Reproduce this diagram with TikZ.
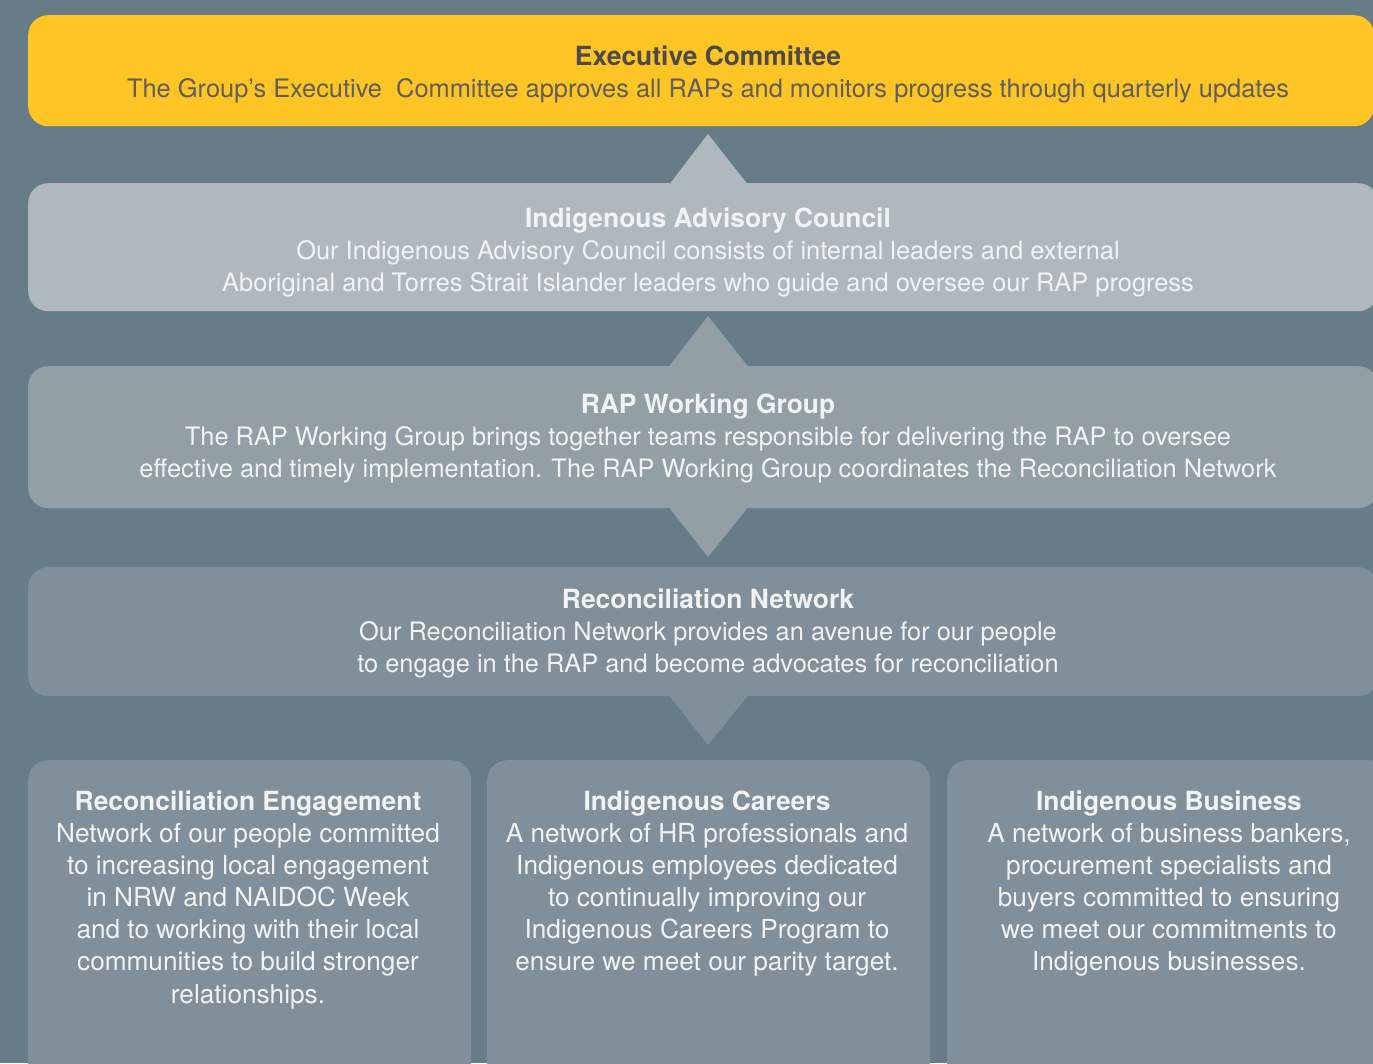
\documentclass[tikz,border=0pt]{standalone}
\usepackage{fontspec}
\setmainfont{TeX Gyre Heros}
\definecolor{bg}{HTML}{677C87}
\definecolor{ylw}{HTML}{FEC524}
\definecolor{adv}{HTML}{B0B8BF}
\definecolor{rap}{HTML}{939FA7}
\definecolor{rec}{HTML}{808F99}
\definecolor{exttl}{HTML}{4A4A4A}
\definecolor{extxt}{HTML}{5E5E5E}
\definecolor{wtxt}{HTML}{F1F3F4}
\newcommand\textlines[8]{% name, x, first baseline, spacing, title, lines, colour style, body style
  \node[ttl,#7,anchor=base] (#1-0) at (#2,#3) {#5};
  \foreach \l [count=\i] in {#6} {
    \node[#8,#7,anchor=base] (#1-\i) at (#2,{#3+#4*\i}) {\l};
  }
}
\begin{document}
\begin{tikzpicture}[x=1pt,y=-1pt,
  box/.style={rectangle,rounded corners=20pt,draw=none,inner sep=0pt,anchor=north west},
  ttl/.style={font=\fontsize{26.4}{32}\selectfont\bfseries,inner sep=0pt},
  bdy/.style={font=\fontsize{25.4}{32}\selectfont,inner sep=0pt},
  bdyb/.style={font=\fontsize{26.2}{32}\selectfont,inner sep=0pt},
  exc/.style={text=exttl},
  exb/.style={text=extxt},
  wt/.style={text=wtxt}]
\useasboundingbox (0,0) rectangle (1373,1063);
\clip (0,0) rectangle (1373,1063);
\fill[bg] (0,0) rectangle (1373,1063);
% boxes
\node[box,fill=ylw,minimum width=1346pt,minimum height=111pt] (exec) at (28,15) {};
\node[box,fill=adv,minimum width=1350pt,minimum height=128pt] (advisory) at (28,183) {};
\node[box,fill=rap,minimum width=1350pt,minimum height=142pt] (rapwg) at (28,366) {};
\node[box,fill=rec,minimum width=1350pt,minimum height=129pt] (recnet) at (28,567) {};
\node[box,fill=rec,minimum width=443pt,minimum height=330pt] (receng) at (28,760) {};
\node[box,fill=rec,minimum width=443pt,minimum height=330pt] (careers) at (487,760) {};
\node[box,fill=rec,minimum width=443pt,minimum height=330pt] (business) at (947,760) {};
% triangles
\fill[adv] (670,183.5) -- (708,134) -- (747,183.5) -- cycle;
\fill[rap] (669,366.5) -- (708,316) -- (748,366.5) -- cycle;
\fill[rap] (669,507.5) -- (708,557) -- (748,507.5) -- cycle;
\fill[rec] (669,695.5) -- (708,745) -- (748,695.5) -- cycle;
% texts
\node[ttl,exc,anchor=base] (exec-0) at (708,65) {Executive Committee};
\node[bdy,exb,anchor=base] (exec-1) at (708,97) {The Group’s Executive\ \ Committee approves all RAPs and monitors progress through quarterly updates};
\textlines{adv}{708}{227}{32}{Indigenous Advisory Council}{Our Indigenous Advisory Council consists of internal leaders and external,Aboriginal and Torres Strait Islander leaders who guide and oversee our RAP progress}{wt}{bdy}
\textlines{rap}{708}{413}{32}{RAP Working Group}{The RAP Working Group brings together teams responsible for delivering the RAP to oversee,effective and timely implementation. The RAP Working Group coordinates the Reconciliation Network}{wt}{bdy}
\textlines{rn}{708}{608}{32}{Reconciliation Network}{Our Reconciliation Network provides an avenue for our people,to engage in the RAP and become advocates for reconciliation}{wt}{bdy}
\textlines{re}{248}{810}{32.17}{Reconciliation Engagement}{Network of our people committed,to increasing local engagement,in NRW and NAIDOC Week,and to working with their local,communities to build stronger,relationships.}{wt}{bdyb}
\textlines{ic}{707}{810}{32.17}{Indigenous Careers}{A network of HR professionals and,Indigenous employees dedicated,to continually improving our,Indigenous Careers Program to,ensure we meet our parity target.}{wt}{bdyb}
\textlines{ib}{1169}{810}{32.17}{Indigenous Business}{{A network of business bankers,},procurement specialists and,buyers committed to ensuring,we meet our commitments to,Indigenous businesses.}{wt}{bdyb}
\end{tikzpicture}
\end{document}
